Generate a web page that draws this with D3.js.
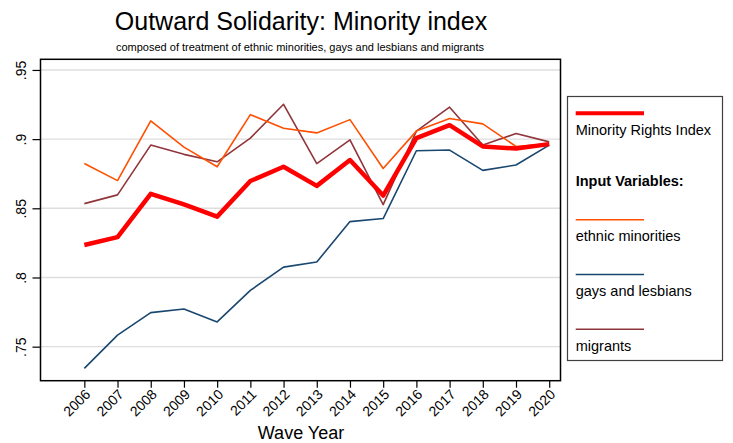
<!DOCTYPE html>
<html>
<head>
<meta charset="utf-8">
<script src="https://cdn.jsdelivr.net/npm/d3@7"></script>
<style>
  body { margin: 0; background: #fff; }
  svg { display: block; font-family: "Liberation Sans", Arial, sans-serif; }
</style>
</head>
<body>
<div id="chart"></div>
<script>
// data
const years = [2006, 2007, 2008, 2009, 2010, 2011, 2012, 2013, 2014, 2015, 2016, 2017, 2018, 2019, 2020];
const minorityIndex = [0.8235, 0.8292, 0.8605, 0.8528, 0.8440, 0.8697, 0.8800, 0.8662, 0.8849, 0.8592, 0.9007, 0.9101, 0.8947, 0.8932, 0.8964];
const ethnicMinorities = [0.8824, 0.8700, 0.9132, 0.8942, 0.8800, 0.9177, 0.9079, 0.9045, 0.9141, 0.8788, 0.9058, 0.9149, 0.9110, 0.8947, 0.8966];
const gaysLesbians = [0.7343, 0.7583, 0.7746, 0.7772, 0.7679, 0.7907, 0.8075, 0.8112, 0.8404, 0.8426, 0.8916, 0.8921, 0.8774, 0.8813, 0.8957];
const migrants = [0.8534, 0.8597, 0.8957, 0.8890, 0.8836, 0.9007, 0.9252, 0.8823, 0.8995, 0.8527, 0.9058, 0.9231, 0.8957, 0.9040, 0.8980];
const yTicks = [0.75, 0.8, 0.85, 0.9, 0.95];
const yTickLabels = [".75", ".8", ".85", ".9", ".95"];

const W = 733, H = 443;
const plot = {left: 40.5, right: 560.5, top: 59.3, bottom: 380.7};

const svg = d3.select("#chart").append("svg")
    .attr("width", W)
    .attr("height", H);

// scales
const x = d3.scaleLinear()
    .domain([2004.68, 2020.34])
    .range([plot.left, plot.right]);
const y = d3.scaleLinear()
    .domain([0.7254, 0.9577])
    .range([plot.bottom, plot.top]);

// gridlines
svg.append("g")
  .selectAll("line")
  .data(yTicks)
  .join("line")
    .attr("x1", plot.left)
    .attr("x2", plot.right)
    .attr("y1", d => y(d))
    .attr("y2", d => y(d))
    .attr("stroke", "#dedede")
    .attr("stroke-width", 1.4);

// series, drawn back to front
const series = [
  {name: "migrants", values: migrants, color: "#90353b", width: 1.6},
  {name: "gays and lesbians", values: gaysLesbians, color: "#1a476f", width: 1.6},
  {name: "ethnic minorities", values: ethnicMinorities, color: "#ff4f00", width: 1.6},
  {name: "Minority Rights Index", values: minorityIndex, color: "#ff0000", width: 4.5}
];

const line = d3.line()
    .x((d, i) => x(years[i]))
    .y(d => y(d));

svg.append("g")
  .selectAll("path")
  .data(series)
  .join("path")
    .attr("d", d => line(d.values))
    .attr("fill", "none")
    .attr("stroke", d => d.color)
    .attr("stroke-width", d => d.width)
    .attr("stroke-linejoin", "round");

// frame
svg.append("rect")
    .attr("x", plot.left)
    .attr("y", plot.top)
    .attr("width", plot.right - plot.left)
    .attr("height", plot.bottom - plot.top)
    .attr("fill", "none")
    .attr("stroke", "#000")
    .attr("stroke-width", 1.5);

// y axis
const yAxis = svg.append("g")
    .attr("transform", `translate(${plot.left},0)`)
    .call(d3.axisLeft(y).tickValues(yTicks).tickSize(8).tickFormat((d, i) => yTickLabels[i]));
yAxis.select(".domain").remove();
yAxis.selectAll(".tick line").attr("stroke", "#000").attr("stroke-width", 1.2);
yAxis.selectAll(".tick text")
    .attr("x", 0).attr("y", 0).attr("dy", 0)
    .attr("text-anchor", "middle")
    .attr("transform", "translate(-15,0) rotate(-90)")
    .attr("font-size", 14)
    .attr("font-family", "Liberation Sans, Arial, sans-serif")
    .attr("fill", "#000");

// x axis
const xAxis = svg.append("g")
    .attr("transform", `translate(0,${plot.bottom})`)
    .call(d3.axisBottom(x).tickValues(years).tickSize(7).tickFormat(d3.format("d")));
xAxis.select(".domain").remove();
xAxis.selectAll(".tick line").attr("stroke", "#000").attr("stroke-width", 1.2);
xAxis.selectAll(".tick text")
    .attr("x", 0).attr("y", 0).attr("dy", 0)
    .attr("text-anchor", "end")
    .attr("transform", "translate(6.5,14.5) rotate(-45)")
    .attr("font-size", 14)
    .attr("font-family", "Liberation Sans, Arial, sans-serif")
    .attr("fill", "#000");

// titles
svg.append("text")
    .attr("x", 301)
    .attr("y", 30)
    .attr("text-anchor", "middle")
    .attr("font-size", 25)
    .text("Outward Solidarity: Minority index");
svg.append("text")
    .attr("x", 300)
    .attr("y", 51)
    .attr("text-anchor", "middle")
    .attr("font-size", 11)
    .text("composed of treatment of ethnic minorities, gays and lesbians and migrants");
svg.append("text")
    .attr("x", 301)
    .attr("y", 439)
    .attr("text-anchor", "middle")
    .attr("font-size", 18)
    .text("Wave Year");

// legend
const legend = svg.append("g");
legend.append("rect")
    .attr("x", 567.5)
    .attr("y", 96.5)
    .attr("width", 155)
    .attr("height", 264)
    .attr("fill", "#fff")
    .attr("stroke", "#404040")
    .attr("stroke-width", 1.2);

const legendItems = [
  {label: "Minority Rights Index", s: series[3], y: 113.3},
  {label: "ethnic minorities", s: series[2], y: 219.7},
  {label: "gays and lesbians", s: series[1], y: 274.5},
  {label: "migrants", s: series[0], y: 329.3}
];

const item = legend.selectAll("g.item")
  .data(legendItems)
  .join("g")
    .attr("class", "item");
item.append("line")
    .attr("x1", 575.7)
    .attr("x2", 644)
    .attr("y1", d => d.y)
    .attr("y2", d => d.y)
    .attr("stroke", d => d.s.color)
    .attr("stroke-width", d => d.s.width === 4.5 ? 4 : 1.6);
item.append("text")
    .attr("x", 575.7)
    .attr("y", d => d.y + 21.5)
    .attr("font-size", 14.5)
    .text(d => d.label);

legend.append("text")
    .attr("x", 575.7)
    .attr("y", 185.7)
    .attr("font-size", 14.5)
    .attr("font-weight", "bold")
    .text("Input Variables:");
</script>
</body>
</html>
